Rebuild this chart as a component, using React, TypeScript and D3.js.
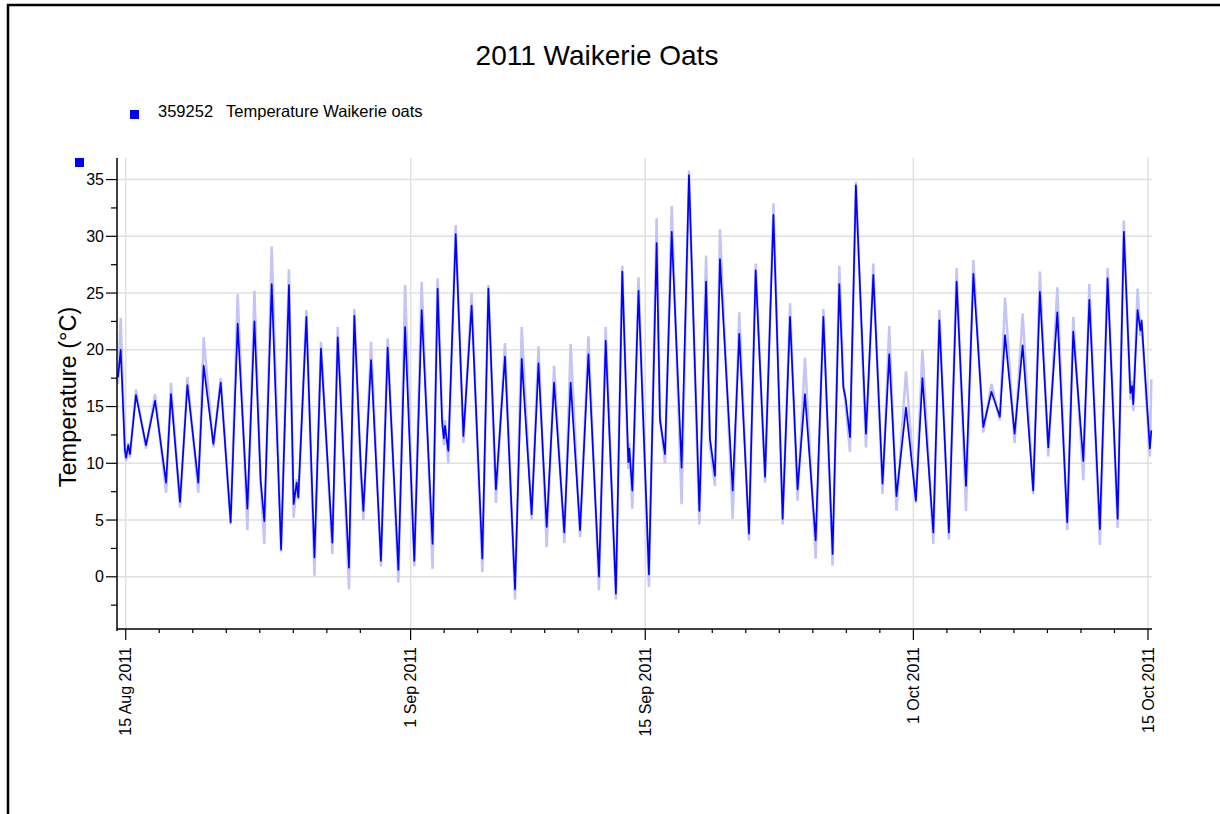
import React from "react";
import * as d3 from "d3";

// ---- data (days since 15 Aug 2011 00:00, temperature °C) ----
const turnDays = [
  -0.46, -0.3, -0.05, 0.02, 0.15, 0.25, 0.61, 1.21, 1.75, 2.41, 2.7, 3.24, 3.68, 4.33, 4.65, 5.23, 5.67,
  6.26, 6.68, 7.26, 7.68, 8.05, 8.27, 8.71, 9.27, 9.74, 10.02, 10.2, 10.3, 10.78, 11.26, 11.65, 12.33,
  12.65, 13.32, 13.64, 14.03, 14.18, 14.64, 15.23, 15.63, 16.27, 16.67, 17.22, 17.66, 18.31, 18.61,
  18.88, 18.98, 19.05, 19.25, 19.69, 20.15, 20.64, 21.28, 21.64, 22.09, 22.63, 23.23, 23.63, 24.22,
  24.63, 25.12, 25.56, 26.17, 26.55, 27.11, 27.61, 28.24, 28.64, 29.25, 29.63, 29.99, 30.05, 30.23,
  30.6, 31.22, 31.68, 31.88, 32.18, 32.58, 33.17, 33.61, 34.23, 34.63, 34.86, 35.16, 35.46, 36.22,
  36.61, 37.19, 37.59, 38.15, 38.65, 39.2, 39.64, 40.09, 40.53, 41.17, 41.63, 42.18, 42.58, 42.82,
  42.95, 43.22, 43.57, 44.17, 44.61, 45.16, 45.56, 45.99, 46.56, 47.15, 47.54, 48.19, 48.55, 49.12,
  49.58, 50.14, 50.58, 51.17, 51.66, 52.16, 52.47, 53.04, 53.52, 54.15, 54.55, 55.05, 55.59, 56.18,
  56.54, 57.14, 57.5, 58.13, 58.59, 59.19, 59.56, 59.95, 60.05, 60.12, 60.38, 60.55, 60.62, 61.11, 61.2,
];
const turnTemps = [
  17.6, 20.0, 11.2, 10.5, 11.6, 10.8, 16.0, 11.6, 15.5, 8.3, 16.1, 6.6, 16.9, 8.3, 18.6, 11.7, 17.1,
  4.8, 22.3, 6.0, 22.5, 8.5, 4.9, 25.8, 2.4, 25.7, 6.4, 8.3, 7.0, 22.9, 1.7, 20.1, 3.0,
  21.1, 0.8, 23.0, 9.6, 5.8, 19.1, 1.4, 20.2, 0.6, 22.0, 1.4, 23.5, 2.9, 25.4,
  13.6, 12.2, 13.3, 11.1, 30.2, 12.4, 23.9, 1.6, 25.4, 7.7, 19.4, -1.1, 19.2, 5.5,
  18.8, 4.4, 17.1, 3.9, 17.1, 4.1, 19.6, 0.0, 20.8, -1.5, 26.9, 10.1, 11.3, 7.6,
  25.2, 0.2, 29.4, 13.8, 10.8, 30.4, 9.6, 35.4, 5.8, 26.0, 12.2, 8.9, 28.0, 7.6,
  21.4, 3.8, 27.0, 8.8, 31.9, 5.1, 22.9, 7.7, 16.1, 3.2, 22.9, 2.0, 25.8, 16.7,
  15.8, 12.3, 34.5, 12.6, 26.6, 8.2, 19.6, 7.1, 14.9, 6.7, 17.5, 3.9, 22.6, 3.9,
  26.0, 8.0, 26.7, 13.2, 16.3, 14.1, 21.3, 12.6, 20.4, 7.6, 25.1, 11.4, 23.3, 4.8,
  21.6, 10.2, 24.4, 4.2, 26.3, 5.1, 30.4, 16.2, 16.8, 15.2, 23.5, 21.7, 22.6, 11.3, 12.9,
];
const lightTemps = [
  17.0, 22.8, 10.8, 10.2, 11.8, 10.5, 16.5, 11.3, 16.1, 7.4, 17.1, 6.1, 17.6, 7.4, 21.1, 11.4, 17.5,
  4.6, 24.9, 4.1, 25.2, 8.2, 2.9, 29.1, 2.2, 27.1, 5.2, 8.6, 6.8, 23.5, 0.1, 20.7, 2.0,
  22.0, -1.1, 23.6, 9.0, 5.0, 20.7, 0.9, 21.0, -0.5, 25.7, 0.9, 26.0, 0.7, 26.3,
  14.2, 11.6, 13.8, 10.0, 31.0, 11.8, 25.0, 0.4, 25.7, 6.5, 20.6, -2.0, 22.0, 5.0,
  20.3, 2.6, 18.6, 3.0, 20.5, 3.5, 21.2, -1.2, 22.0, -2.0, 27.4, 9.5, 11.8, 6.0,
  26.4, -0.9, 31.6, 14.2, 10.0, 32.7, 6.4, 35.8, 4.6, 28.3, 11.6, 8.0, 30.6, 5.1,
  23.3, 3.2, 27.6, 8.3, 32.9, 4.6, 24.1, 6.7, 19.3, 1.6, 23.6, 1.0, 27.4, 17.2,
  15.2, 11.0, 34.8, 11.4, 27.6, 7.3, 22.1, 5.8, 18.1, 6.5, 20.0, 2.9, 23.5, 3.3,
  27.2, 5.8, 27.9, 12.7, 17.0, 13.8, 24.6, 11.8, 23.2, 7.3, 26.9, 10.6, 25.5, 4.1,
  22.9, 8.5, 25.8, 2.8, 27.2, 4.3, 31.4, 15.6, 17.3, 14.6, 25.4, 21.2, 22.3, 10.6, 17.4,
];

const majorTickDates = [
  new Date(Date.UTC(2011, 7, 15)),
  new Date(Date.UTC(2011, 8, 1)),
  new Date(Date.UTC(2011, 8, 15)),
  new Date(Date.UTC(2011, 9, 1)),
  new Date(Date.UTC(2011, 9, 15)),
];
const majorTickLabels = ["15 Aug 2011", "1 Sep 2011", "15 Sep 2011", "1 Oct 2011", "15 Oct 2011"];
const yMajorTicks = [0, 5, 10, 15, 20, 25, 30, 35];
const yMinorTicks = [-2.5, 2.5, 7.5, 12.5, 17.5, 22.5, 27.5, 32.5];

const title = "2011 Waikerie Oats";
const legendId = "359252";
const legendLabel = "Temperature Waikerie oats";
const yAxisTitle = "Temperature (°C)";

const FONT = "'Liberation Sans', Arial, Helvetica, sans-serif";
const BASE = Date.UTC(2011, 7, 15);
const DAY = 86400000;

export default function App() {
  const x = d3
    .scaleUtc()
    .domain([new Date(Date.UTC(2011, 7, 14, 11, 30)), new Date(Date.UTC(2011, 9, 15, 5, 45))])
    .range([117, 1152]);
  const y = d3.scaleLinear().domain([-4.6, 36.9]).range([629, 158]);
  const [x0, x1] = x.range();
  const [yb, yt] = y.range();

  const pts = turnDays.map((d, i) => ({ t: new Date(BASE + d * DAY), v: turnTemps[i], lv: lightTemps[i] }));
  const line = d3
    .line<{ t: Date; v: number; lv: number }>()
    .x((p) => x(p.t))
    .y((p) => y(p.v));
  const lightLine = d3
    .line<{ t: Date; v: number; lv: number }>()
    .x((p) => x(p.t))
    .y((p) => y(p.lv));

  const majorSet = new Set(majorTickDates.map((d) => +d));
  const minorTicks = d3.utcDay
    .every(2)!
    .range(x.domain()[0], x.domain()[1])
    .filter((d) => d.getUTCDate() !== 31 && !majorSet.has(+d));

  return (
    <svg
      width={1220}
      height={814}
      style={{ position: "absolute", left: 0, top: 0, background: "#fff" }}
      fontFamily={FONT}
    >
      <rect x={0} y={0} width={1220} height={814} fill="#fff" />
      {/* frame */}
      <line x1={7} x2={1220} y1={5} y2={5} stroke="#000" strokeWidth={2.5} />
      <line x1={8} x2={8} y1={4} y2={814} stroke="#000" strokeWidth={2.5} />

      <text x={597} y={65} textAnchor="middle" fontSize={28} fill="#000">
        {title}
      </text>

      {/* legend */}
      <rect x={130} y={110} width={9} height={9} fill="#0000ff" />
      <text x={158} y={117} fontSize={16.5} fill="#000">
        {legendId}
        <tspan dx={13}>{legendLabel}</tspan>
      </text>
      <rect x={75} y={158} width={9} height={9} fill="#0000ff" />

      {/* grid */}
      {yMajorTicks.map((v) => (
        <line key={"gy" + v} x1={x0} x2={x1} y1={y(v)} y2={y(v)} stroke="#e0e0e0" strokeWidth={1.5} />
      ))}
      {majorTickDates.map((d) => (
        <line key={"gx" + +d} x1={x(d)} x2={x(d)} y1={yt} y2={yb} stroke="#e0e0e0" strokeWidth={1.5} />
      ))}

      {/* data */}
      <path d={lightLine(pts) || ""} fill="none" stroke="#c4c4f6" strokeWidth={2.5} />
      <path d={line(pts) || ""} fill="none" stroke="#0000ff" strokeWidth={1.7} strokeLinejoin="round" />

      {/* axes */}
      <line x1={x0} x2={x0} y1={yt} y2={yb + 2} stroke="#000" strokeWidth={1.5} />
      <line x1={x0} x2={x1} y1={yb} y2={yb} stroke="#000" strokeWidth={1.5} />

      {yMajorTicks.map((v) => (
        <g key={"yt" + v}>
          <line x1={x0 - 11} x2={x0} y1={y(v)} y2={y(v)} stroke="#000" strokeWidth={1.2} />
          <text x={x0 - 13} y={y(v)} dy="0.35em" textAnchor="end" fontSize={16} fill="#000">
            {v}
          </text>
        </g>
      ))}
      {yMinorTicks.map((v) => (
        <line key={"ym" + v} x1={x0 - 6} x2={x0} y1={y(v)} y2={y(v)} stroke="#000" strokeWidth={1.2} />
      ))}

      {majorTickDates.map((d, i) => (
        <g key={"xt" + +d}>
          <line x1={x(d)} x2={x(d)} y1={yb} y2={yb + 11} stroke="#000" strokeWidth={1.2} />
          <text
            transform={`translate(${x(d)},${yb + 18}) rotate(-90)`}
            textAnchor="end"
            dy="0.35em"
            fontSize={16}
            fill="#000"
          >
            {majorTickLabels[i]}
          </text>
        </g>
      ))}
      {minorTicks.map((d) => (
        <line key={"xm" + +d} x1={x(d)} x2={x(d)} y1={yb} y2={yb + 4} stroke="#000" strokeWidth={1.2} />
      ))}

      <text
        transform={`translate(68,397) rotate(-90)`}
        textAnchor="middle"
        dy="0.35em"
        fontSize={23.5}
        fill="#000"
      >
        {yAxisTitle}
      </text>
    </svg>
  );
}
